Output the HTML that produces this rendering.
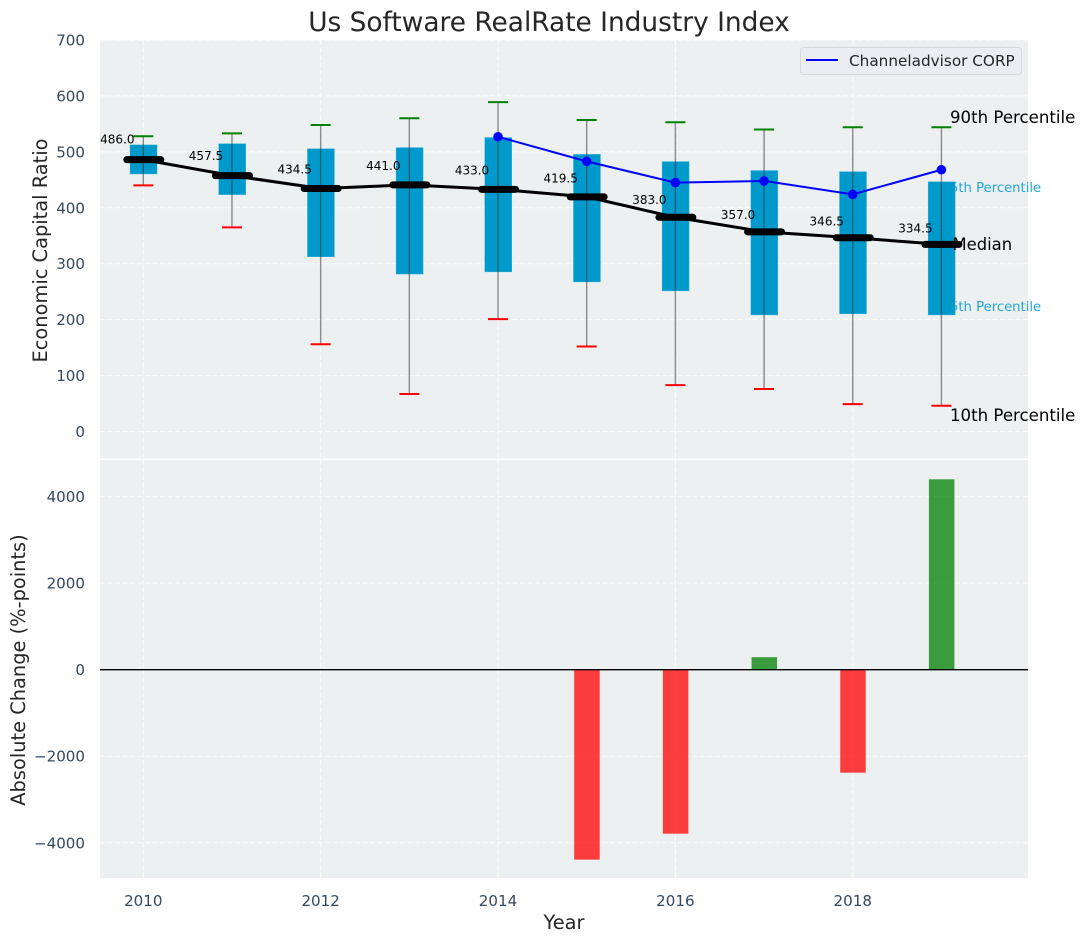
<!DOCTYPE html>
<html>
<head>
<meta charset="utf-8">
<title>Us Software RealRate Industry Index</title>
<style>
html,body{margin:0;padding:0;background:#fff;}
svg{display:block;font-family:"DejaVu Sans","Liberation Sans",sans-serif;}
</style>
</head>
<body>
<svg id="chart" xmlns="http://www.w3.org/2000/svg" width="1085" height="942" viewBox="0 0 1085 942">
  <rect x="0" y="0" width="1085" height="942" fill="#ffffff"/>
  <text x="549" y="31" font-size="26.4" fill="#262626" text-anchor="middle">Us Software RealRate Industry Index</text>
  <rect x="100" y="40" width="928" height="418.5" fill="#ecf0f1"/>
  <rect x="100" y="460" width="928" height="418" fill="#ecf0f1"/>
  <g id="grid"></g>
  <g id="ticks"></g>
  <text transform="translate(47,250.5) rotate(-90)" font-size="19.4" fill="#262626" text-anchor="middle">Economic Capital Ratio</text>
  <text transform="translate(25,670) rotate(-90)" font-size="19.4" fill="#262626" text-anchor="middle">Absolute Change (%-points)</text>
  <text x="564" y="929" font-size="19.4" fill="#262626" text-anchor="middle">Year</text>
  <text x="941.6" y="192" font-size="13.2" fill="#0099cc" fill-opacity="0.85" id="p75label">75th Percentile</text>
  <text x="941.6" y="311" font-size="13.2" fill="#0099cc" fill-opacity="0.85" id="p25label">25th Percentile</text>
  <g id="marks"></g>
  <text x="950" y="123" font-size="16.6" fill="#000000">90th Percentile</text>
  <text x="952.5" y="250" font-size="16.4" fill="#000000">Median</text>
  <text x="950" y="421" font-size="16.6" fill="#000000">10th Percentile</text>
  <g>
    <rect x="800.5" y="47.5" width="221" height="27" rx="3" fill="#ecedf1" stroke="#d6d8db" stroke-width="1"/>
    <line x1="806" y1="60" x2="838" y2="60" stroke="#0000ff" stroke-width="2"/>
    <text x="849" y="66" font-size="15.25" fill="#262626">Channeladvisor CORP</text>
  </g>
</svg>
<script>
const years = [2010, 2011, 2012, 2013, 2014, 2015, 2016, 2017, 2018, 2019];
const p90 = [528, 533, 548, 560, 589, 557, 553, 540, 544, 544];
const p75 = [513, 515, 506, 508, 526, 496, 483, 467, 465, 447];
const medians = [486.0, 457.5, 434.5, 441.0, 433.0, 419.5, 383.0, 357.0, 346.5, 334.5];
const p25 = [460, 423, 312, 281, 285, 267, 251, 208, 210, 208];
const p10 = [440, 365, 156, 67, 201, 152, 83, 76, 49, 46];
const companyYears = [2014, 2015, 2016, 2017, 2018, 2019];
const companyValues = [527, 483, 445, 448, 424, 468];
const changeYears = [2015, 2016, 2017, 2018, 2019];
const changeValues = [-4390, -3790, 290, -2380, 4400];
const upperTicks = [0, 100, 200, 300, 400, 500, 600, 700];
const lowerTicks = [-4000, -2000, 0, 2000, 4000];
const xTicks = [2010, 2012, 2014, 2016, 2018];

const NS = 'http://www.w3.org/2000/svg';
const xScale = v => 143.3 + (v - 2010) * 88.68;
const yUpper = v => 431.5 - v * 0.5593;
const yLower = v => 669.7 - v * 0.04327;

function make(parent, tag, attrs, text) {
  const el = document.createElementNS(NS, tag);
  for (const k in attrs) el.setAttribute(k, attrs[k]);
  if (text !== undefined) el.textContent = text;
  parent.appendChild(el);
  return el;
}

const gridG = document.getElementById('grid');
const ticksG = document.getElementById('ticks');
const marks = document.getElementById('marks');
const dash = {stroke: '#ffffff', 'stroke-width': 1, 'stroke-dasharray': '5 2.5', 'stroke-opacity': 0.85};

upperTicks.forEach(t => {
  const g = make(gridG, 'line', Object.assign({x1: 100, x2: 1028, y1: yUpper(t), y2: yUpper(t)}, dash));
  
  
  const l = make(ticksG, 'text', {x: 85, y: yUpper(t) + 5.5, 'font-size': 15.1, fill: '#34495e', 'text-anchor': 'end'}, String(t));
  
  
});
lowerTicks.forEach(t => {
  const g = make(gridG, 'line', Object.assign({x1: 100, x2: 1028, y1: yLower(t), y2: yLower(t)}, dash));
  
  
  const l = make(ticksG, 'text', {x: 85, y: yLower(t) + 5.5, 'font-size': 15.1, fill: '#34495e', 'text-anchor': 'end'}, String(t).replace('-', '\u2212'));
  
  
});
xTicks.forEach(t => {
  const a = make(gridG, 'line', Object.assign({x1: xScale(t), x2: xScale(t), y1: 40, y2: 458.5}, dash));
  
  
  const b = make(gridG, 'line', Object.assign({x1: xScale(t), x2: xScale(t), y1: 460, y2: 878}, dash));
  
  
  const l = make(ticksG, 'text', {x: xScale(t), y: 906, 'font-size': 15.1, fill: '#34495e', 'text-anchor': 'middle'}, String(t));
  
  
});

years.forEach((yr, i) => {
  const x = xScale(yr);
  const box = make(marks, 'rect', {x: x - 13.5, y: yUpper(p75[i]), width: 27.5, height: yUpper(p25[i]) - yUpper(p75[i]), fill: '#0099cc', stroke: '#ffffff', 'stroke-opacity': 0.25, 'stroke-width': 1});
  
  
  const w = make(marks, 'line', {x1: x, x2: x, y1: yUpper(p90[i]), y2: yUpper(p10[i]), stroke: '#333333', 'stroke-opacity': 0.55, 'stroke-width': 1.4});
  
  
  const top = make(marks, 'line', {x1: x - 10, x2: x + 10, y1: yUpper(p90[i]), y2: yUpper(p90[i]), stroke: '#008000', 'stroke-width': 2});
  
  
  const bot = make(marks, 'line', {x1: x - 10, x2: x + 10, y1: yUpper(p10[i]), y2: yUpper(p10[i]), stroke: '#ff0000', 'stroke-width': 2});
  
  
});

changeYears.forEach((yr, i) => {
  const v = changeValues[i];
  const y0 = yLower(Math.max(v, 0));
  const y1 = yLower(Math.min(v, 0));
  const bar = make(marks, 'rect', {x: xScale(yr) - 12.5, y: y0, width: 25.5, height: y1 - y0, fill: v >= 0 ? '#008000' : '#ff0000', 'fill-opacity': 0.75});
  
  
});
const zero = make(marks, 'line', {x1: 100, x2: 1028, y1: yLower(0), y2: yLower(0), stroke: '#000000', 'stroke-width': 1.4});



const medianPath = make(marks, 'polyline', {points: years.map((yr, i) => xScale(yr) + ',' + yUpper(medians[i])).join(' '), fill: 'none', stroke: '#000000', 'stroke-width': 3});



years.forEach((yr, i) => {
  const x = xScale(yr);
  const y = yUpper(medians[i]);
  const m = make(marks, 'line', {x1: x - 16.5, x2: x + 17.5, y1: y, y2: y, stroke: '#000000', 'stroke-width': 7, 'stroke-linecap': 'round'});
  
  
  const t = make(marks, 'text', {x: x - 26, y: yUpper(medians[i] * 1.05) - 2.6, 'font-size': 12, fill: '#000000', 'text-anchor': 'middle'}, medians[i].toFixed(1));
  
  
});

const companyLine = make(marks, 'polyline', {points: companyYears.map((yr, i) => xScale(yr) + ',' + yUpper(companyValues[i])).join(' '), fill: 'none', stroke: '#0000ff', 'stroke-width': 2});


companyYears.forEach((yr, i) => {
  const c = make(marks, 'circle', {cx: xScale(yr), cy: yUpper(companyValues[i]), r: 4.8, fill: '#0000ff'});
  
  
});
</script>
</body>
</html>
